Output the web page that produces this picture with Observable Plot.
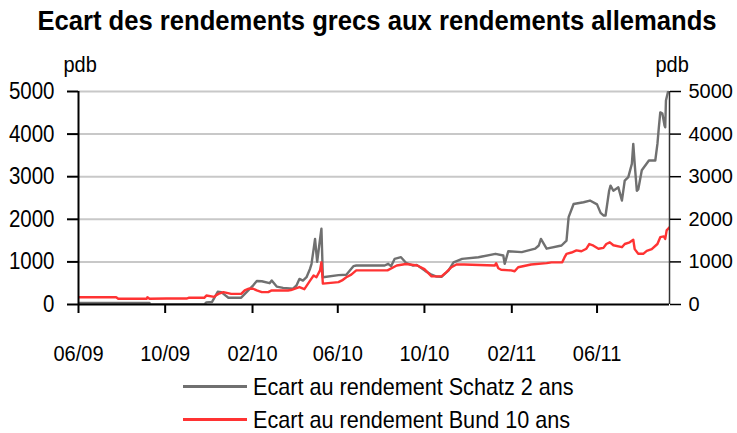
<!DOCTYPE html>
<html><head><meta charset="utf-8">
<script src="https://cdn.jsdelivr.net/npm/d3@7"></script>
<script src="https://cdn.jsdelivr.net/npm/@observablehq/plot@0.6"></script>
<style>
body{margin:0;background:#fff;font-family:"Liberation Sans",Arial,sans-serif;color:#000;}
#wrap{width:737px;height:433px;position:relative;overflow:hidden;background:#fff;}
#title{height:41px;position:relative;}
#title span{position:absolute;left:377px;top:0;line-height:41px;white-space:nowrap;font-size:28px;font-weight:bold;transform:translateX(-50%) scaleX(0.915);transform-origin:center;}
#chart svg{display:block;}
.leg{display:flex;align-items:center;height:33px;padding-left:183px;white-space:nowrap;}
.leg .sw{width:64px;height:3px;margin-right:6px;flex:none;}
.leg .tx{display:inline-block;font-size:24px;transform:scaleX(0.9);transform-origin:left center;}
</style></head><body>
<div id="wrap"><div id="title"></div><div id="chart"></div><div id="legend"></div></div>
<script>
const titleText = "Ecart des rendements grecs aux rendements allemands";
const unitLabel = "pdb";
const seriesNames = ["Ecart au rendement Schatz 2 ans", "Ecart au rendement Bund 10 ans"];
const seriesColors = ["#707070", "#ff3333"];
const xDomain = ["2009-06-01", "2011-09-11"];
const xTickDates = ["2009-06-01","2009-10-01","2010-02-01","2010-06-01","2010-10-01","2011-02-01","2011-06-01"];
const yTickValues = [0,1000,2000,3000,4000,5000];

const schatzDates = ["2009-06-01","2009-09-09","2009-09-10","2009-11-25","2009-11-28","2009-12-06","2009-12-09","2009-12-14","2009-12-19","2009-12-29","2010-01-16","2010-01-26","2010-02-02","2010-02-07","2010-02-14","2010-02-25","2010-02-28","2010-03-07","2010-03-16","2010-03-30","2010-04-04","2010-04-08","2010-04-13","2010-04-18","2010-04-23","2010-04-25","2010-04-28","2010-04-30","2010-05-03","2010-05-06","2010-05-08","2010-05-09","2010-05-11","2010-06-02","2010-06-13","2010-06-23","2010-06-27","2010-07-18","2010-08-06","2010-08-11","2010-08-15","2010-08-20","2010-08-29","2010-09-05","2010-09-15","2010-09-20","2010-10-02","2010-10-11","2010-10-18","2010-10-25","2010-11-04","2010-11-11","2010-11-23","2010-12-16","2011-01-09","2011-01-20","2011-01-22","2011-01-27","2011-02-15","2011-03-06","2011-03-11","2011-03-14","2011-03-22","2011-04-12","2011-04-19","2011-04-22","2011-04-29","2011-05-13","2011-05-22","2011-06-01","2011-06-06","2011-06-10","2011-06-13","2011-06-18","2011-06-20","2011-06-24","2011-07-01","2011-07-06","2011-07-10","2011-07-15","2011-07-20","2011-07-22","2011-07-24","2011-07-27","2011-07-29","2011-08-03","2011-08-13","2011-08-22","2011-08-25","2011-08-27","2011-08-29","2011-09-01","2011-09-04","2011-09-05","2011-09-06","2011-09-09"];
const schatzValues = [35,35,0,0,50,60,150,300,290,160,160,330,450,550,545,500,565,420,390,370,450,600,560,640,840,950,1300,1540,1000,1400,1660,1780,640,690,700,900,915,915,915,955,900,1070,1110,980,915,930,790,700,655,650,800,990,1070,1110,1190,1150,955,1250,1230,1310,1385,1540,1310,1385,1500,2050,2360,2400,2440,2350,2150,2090,2090,2670,2790,2670,2750,2440,2910,2990,3300,3770,3300,2670,2700,3150,3380,3380,3770,4160,4510,4480,4200,4160,4790,5000];

const bundDates = ["2009-06-01","2009-07-24","2009-07-27","2009-09-05","2009-09-06","2009-09-09","2009-10-03","2009-10-31","2009-11-03","2009-11-25","2009-11-28","2009-12-09","2009-12-12","2009-12-15","2009-12-22","2010-01-02","2010-01-16","2010-01-21","2010-01-26","2010-02-02","2010-02-07","2010-02-14","2010-02-23","2010-02-28","2010-03-23","2010-03-27","2010-04-08","2010-04-15","2010-04-23","2010-04-28","2010-05-02","2010-05-07","2010-05-09","2010-05-11","2010-06-02","2010-06-07","2010-06-13","2010-06-20","2010-06-27","2010-08-10","2010-08-23","2010-09-05","2010-09-21","2010-10-01","2010-10-11","2010-10-25","2010-11-01","2010-11-08","2010-11-15","2010-11-26","2011-01-08","2011-01-10","2011-01-13","2011-01-17","2011-01-31","2011-02-05","2011-02-10","2011-02-28","2011-03-22","2011-03-29","2011-04-13","2011-04-16","2011-04-19","2011-04-26","2011-05-03","2011-05-10","2011-05-17","2011-05-21","2011-05-27","2011-06-03","2011-06-10","2011-06-14","2011-06-19","2011-06-24","2011-07-06","2011-07-10","2011-07-17","2011-07-22","2011-07-24","2011-07-29","2011-08-05","2011-08-10","2011-08-17","2011-08-25","2011-08-29","2011-09-03","2011-09-05","2011-09-07","2011-09-11"];
const bundValues = [170,170,135,135,170,135,140,140,157,157,210,180,220,250,290,250,250,330,370,370,330,290,290,330,330,340,410,360,560,680,640,800,990,490,525,565,640,700,800,800,915,950,915,830,660,660,760,875,940,940,915,970,850,815,800,780,875,940,970,990,990,1100,1190,1220,1270,1250,1310,1420,1380,1310,1330,1420,1460,1390,1345,1420,1460,1520,1300,1190,1190,1260,1300,1420,1580,1600,1540,1740,1815];

const schatz = schatzDates.map((d, i) => ({date: new Date(d), value: schatzValues[i]}));
const bund = bundDates.map((d, i) => ({date: new Date(d), value: bundValues[i]}));
const x0 = new Date(xDomain[0]), x1 = new Date(xDomain[1]);
const font = '"Liberation Sans", Arial, sans-serif';

const ts = document.createElement("span");
ts.textContent = titleText;
document.getElementById("title").appendChild(ts);

const chart = Plot.plot({
  width: 737, height: 329,
  marginTop: 50, marginBottom: 66, marginLeft: 78, marginRight: 68,
  style: {fontFamily: font, fontSize: "20px", color: "#000", background: "#fff"},
  x: {type: "utc", domain: [x0, x1]},
  y: {domain: [0, 5000]},
  marks: [
    Plot.ruleY(yTickValues.filter(v => v > 0), {stroke: "#c8c8c8", strokeWidth: 2}),
    Plot.line(schatz, {x: "date", y: "value", stroke: seriesColors[0], strokeWidth: 2.4, clip: true}),
    Plot.line(bund, {x: "date", y: "value", stroke: seriesColors[1], strokeWidth: 2.4, clip: true}),
    Plot.ruleY([0], {stroke: "#000", strokeWidth: 2}),
    Plot.ruleX([x0], {stroke: "#000", strokeWidth: 2}),
    Plot.ruleX([x1], {stroke: "#333", strokeWidth: 1.5}),
    Plot.axisY(yTickValues, {anchor: "left", tickSize: 11, tickPadding: 13, tickFormat: "d", strokeWidth: 2, label: null, fontSize: 20.5}),
    Plot.axisY(yTickValues, {anchor: "right", tickSize: 11, tickPadding: 8, tickFormat: "d", strokeWidth: 1.5, label: null, fontSize: 20, className: "rightaxis"}),
    Plot.axisX(xTickDates.map(d => new Date(d)), {tickFormat: d3.utcFormat("%m/%y"), tickSize: 9, tickPadding: 31, strokeWidth: 2, label: null, fontSize: 20}),
    Plot.text([unitLabel], {frameAnchor: "top-left", text: d => d, dx: -15, dy: -20, textAnchor: "start", lineAnchor: "bottom", fontSize: 20}),
    Plot.text([unitLabel], {frameAnchor: "top-right", text: d => d, dx: -14, dy: -20, textAnchor: "start", lineAnchor: "bottom", fontSize: 20})
  ]
});
document.getElementById("chart").appendChild(chart);

// slightly condensed look: taller glyphs at the same width (right-edge labels left as is)
chart.querySelectorAll("text").forEach(el => {
  if (el.closest(".rightaxis")) return;
  const len = el.getComputedTextLength();
  const fs = parseFloat(getComputedStyle(el).fontSize);
  el.style.fontSize = (fs * 1.13) + "px";
  el.setAttribute("textLength", len);
  el.setAttribute("lengthAdjust", "spacingAndGlyphs");
});

const legend = document.getElementById("legend");
seriesNames.forEach((name, i) => {
  const row = document.createElement("div");
  row.className = "leg";
  const sw = document.createElement("span");
  sw.className = "sw";
  sw.style.background = seriesColors[i];
  const t = document.createElement("span");
  t.className = "tx";
  t.textContent = name;
  row.appendChild(sw); row.appendChild(t);
  legend.appendChild(row);
});
</script>
</body></html>
